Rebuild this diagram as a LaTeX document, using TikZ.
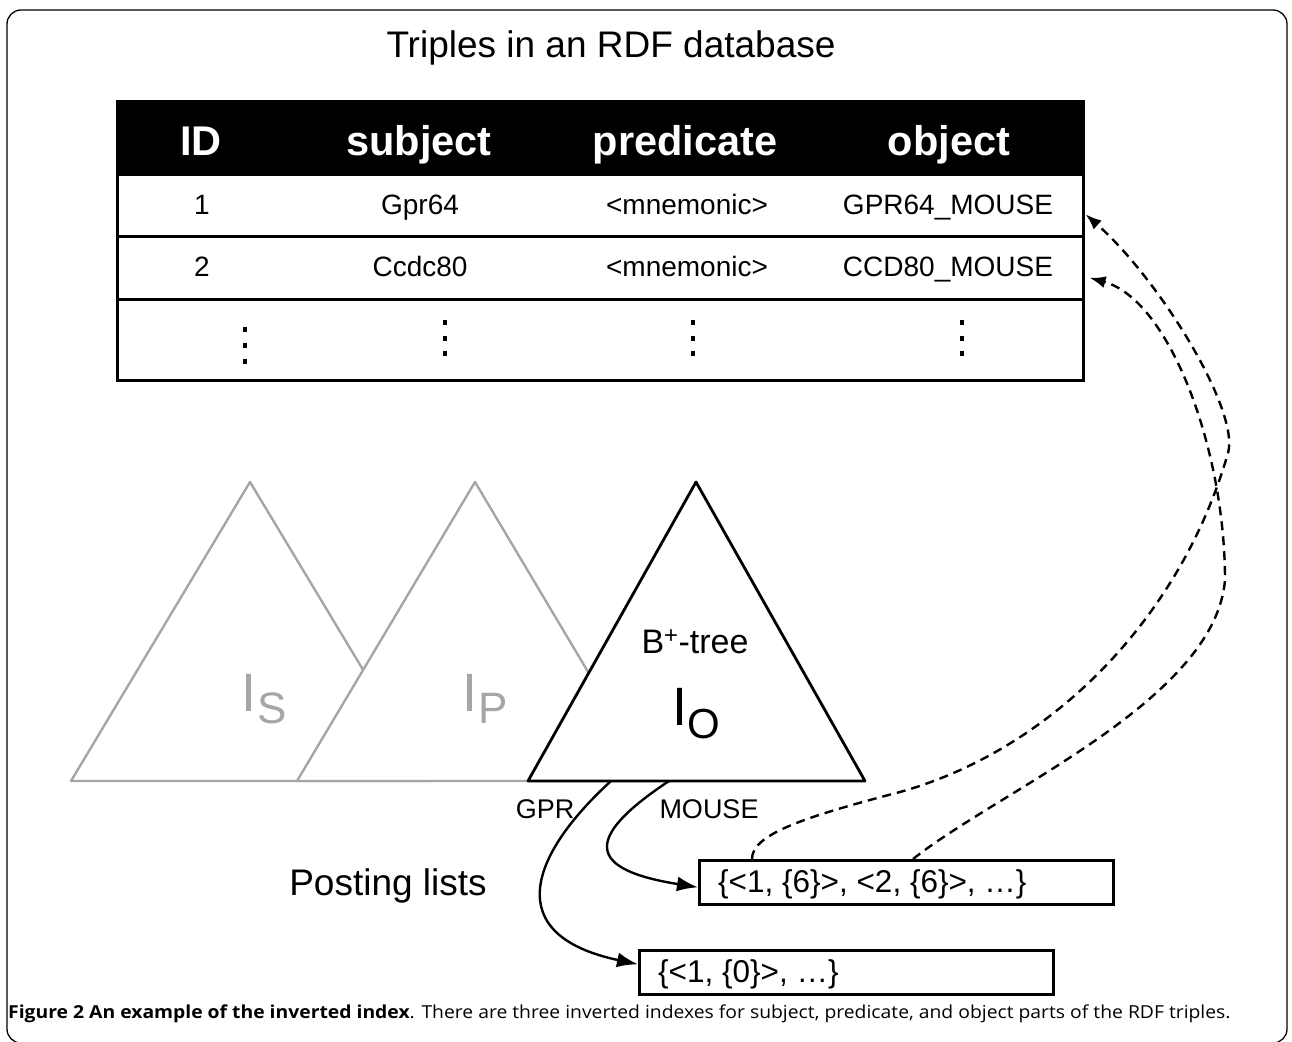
\documentclass[tikz,border=0pt]{standalone}
\usepackage{fontspec}
\setmainfont{Liberation Sans}
\newfontfamily\capfont[FakeStretch=1.08]{Open Sans}
\usetikzlibrary{arrows.meta}
\definecolor{triGray}{HTML}{A6A6A6}
\begin{document}
\begin{tikzpicture}[x=1pt,y=1pt,
  tline/.style={line width=2.6pt},
  cellbox/.style={draw=black, tline, inner sep=0pt, anchor=north west, minimum width=966pt},
  hdrtxt/.style={text=white, font=\fontsize{41.5}{44}\selectfont\bfseries, anchor=base, inner sep=0pt},
  celltxt/.style={font=\fontsize{28}{32}\selectfont, anchor=base, inner sep=0pt},
  gtri/.style={draw=triGray, line width=2.4pt, fill=white, line join=round},
  otri/.style={draw=black, line width=2.8pt, fill=white, line join=round},
  plbox/.style={draw=black, tline, inner sep=0pt, anchor=north west, minimum width=414pt, minimum height=44pt},
  pltxt/.style={font=\fontsize{31.5}{33}\selectfont, anchor=base west, inner sep=0pt},
  keytxt/.style={font=\fontsize{27}{30}\selectfont, anchor=base, inner sep=0pt},
  solidarrow/.style={line width=2.4pt, -{Latex[length=21pt,width=15pt]}},
  dasharrow/.style={line width=2.4pt, dash pattern=on 9pt off 6pt, -{Latex[length=16pt,width=12pt]}},
  dotmark/.style={fill=black}
]
\useasboundingbox (0,0) rectangle (1292,-1041);
% frame
\draw[line width=1.3pt, rounded corners=14pt] (7,-10) rectangle (1287,-1043);
% title
\node[font=\fontsize{37}{40}\selectfont, anchor=base, inner sep=0pt] (title) at (611,-57) {Triples in an RDF database};
% table
\node[cellbox, fill=black, minimum height=73pt] (hdr) at (116,-100) {};
\node[cellbox, minimum height=62pt] (row1) at (116,-173) {};
\node[cellbox, minimum height=63pt] (row2) at (116,-235) {};
\node[cellbox, minimum height=81pt] (row3) at (116,-298) {};
\node[hdrtxt] (hID) at (201,-155) {ID};
\node[hdrtxt] (hS) at (419,-155) {subject};
\node[hdrtxt] (hP) at (685,-155) {predicate};
\node[hdrtxt] (hO) at (949,-155) {object};
\node[celltxt] (r1a) at (202,-214) {1};
\node[celltxt] (r1b) at (420,-214) {Gpr64};
\node[celltxt] (r1c) at (687,-214) {<mnemonic>};
\node[celltxt] (r1d) at (948,-214) {GPR64\_MOUSE};
\node[celltxt] (r2a) at (202,-276) {2};
\node[celltxt] (r2b) at (420,-276) {Ccdc80};
\node[celltxt] (r2c) at (687,-276) {<mnemonic>};
\node[celltxt] (r2d) at (948,-276) {CCD80\_MOUSE};
% vertical ellipses
\foreach \yy in {329,345,361} {\fill[dotmark] (243,-\yy+2.5) rectangle +(4,-5);}
\foreach \xx in {445,693,962} {\foreach \yy in {322,338,353} {\fill[dotmark] (\xx-2,-\yy+2.5) rectangle +(4,-5);}}
% triangles
\draw[gtri] (250,-482) -- (71,-781) -- (430,-781) -- cycle;
\draw[gtri] (475,-482) -- (297,-781) -- (653,-781) -- cycle;
\draw[otri] (696,-482) -- (528,-781) -- (865,-781) -- cycle;
\node[text=triGray, font=\fontsize{54}{56}\selectfont, anchor=base west, inner sep=0pt] (IS) at (241,-711) {I\hspace{1pt}\raisebox{-12pt}{\fontsize{44}{44}\selectfont S}};
\node[text=triGray, font=\fontsize{54}{56}\selectfont, anchor=base west, inner sep=0pt] (IP) at (462,-711) {I\hspace{1pt}\raisebox{-12pt}{\fontsize{44}{44}\selectfont P}};
\node[font=\fontsize{34}{36}\selectfont, anchor=base, inner sep=0pt] (btree) at (695,-653) {B\textsuperscript{+}-tree};
\node[font=\fontsize{54}{56}\selectfont, anchor=base west, inner sep=0pt] (IO) at (672,-725) {I\raisebox{-13pt}{\fontsize{42}{42}\selectfont O}};
% keys
\node[keytxt] (gpr) at (545,-818) {GPR};
\node[keytxt] (mouse) at (709,-818) {MOUSE};
\coordinate (gprA) at (611,-781);
\coordinate (mouseA) at (669,-781);
% posting lists
\node[font=\fontsize{37}{40}\selectfont, anchor=base, inner sep=0pt] (plabel) at (388,-895) {Posting lists};
\node[plbox] (pl1) at (698,-859) {};
\node[plbox] (pl2) at (638,-949) {};
\node[pltxt] (pl1t) at (718,-892) {\{<1, \{6\}>, <2, \{6\}>, …\}};
\node[pltxt] (pl2t) at (658,-982) {\{<1, \{0\}>, …\}};
% solid arrows
\draw[solidarrow] (mouseA) .. controls (580,-840) and (590,-870) .. ([yshift=-5pt]pl1.west);
\draw[solidarrow] (gprA) .. controls (530,-855) and (500,-935) .. ([yshift=8pt]pl2.west);
% dashed arrows
\coordinate (d1s) at ([xshift=54pt]pl1.north west);
\coordinate (d2s) at ([xshift=215pt]pl1.north west);
\draw[dasharrow] (d1s) .. controls (752,-835) and (800,-818) .. (900,-792)
  .. controls (1050,-750) and (1180,-620) .. (1228,-453)
  .. controls (1240,-411) and (1160,-280) .. ([xshift=1pt,yshift=-9pt]row1.east);
\draw[dasharrow] (d2s) .. controls (1000,-790) and (1215,-700) .. (1225,-580)
  .. controls (1225,-450) and (1170,-300) .. ([xshift=5pt,yshift=-10pt]row2.east);
% caption
\node[font=\capfont\fontsize{17.9}{20}\selectfont, anchor=base west, inner sep=0pt] (cap) at (8,-1018) {\textbf{Figure 2 An example of the inverted index}. There are three inverted indexes for subject, predicate, and object parts of the RDF triples.};
\end{tikzpicture}
\end{document}
